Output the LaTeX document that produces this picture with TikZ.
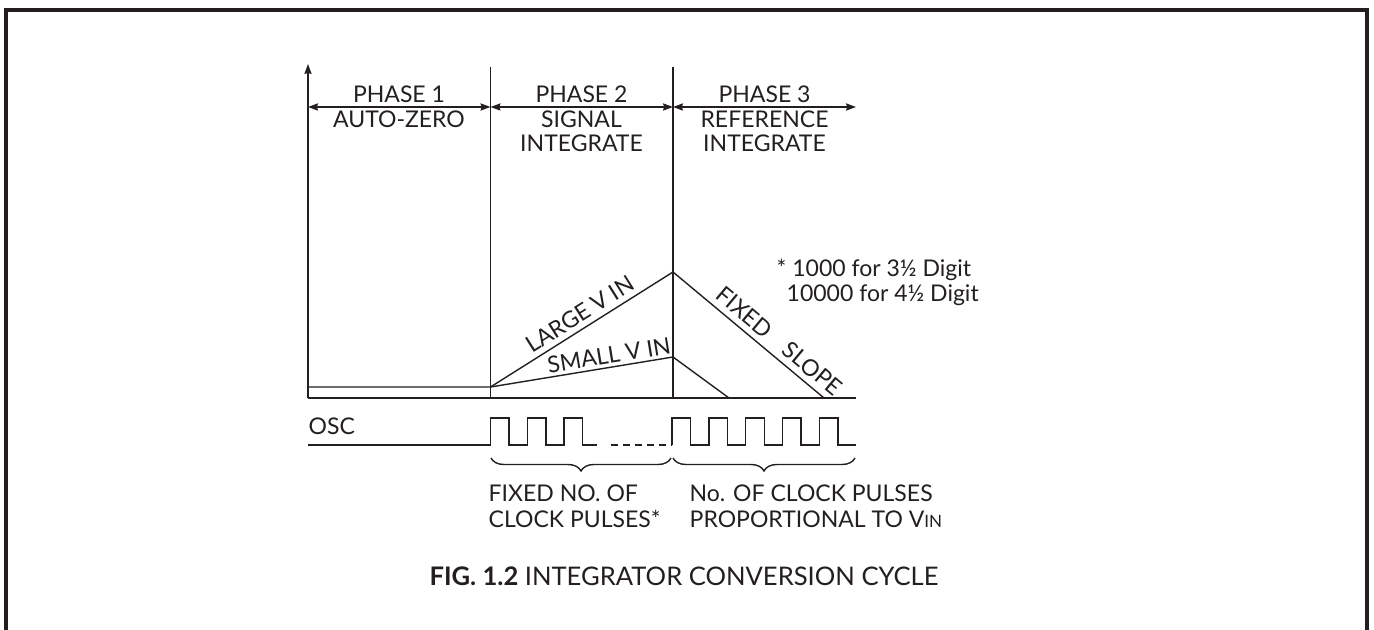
\documentclass[tikz,border=0pt]{standalone}
\usepackage{fontspec}
\setmainfont{Lato}
\usetikzlibrary{arrows.meta,decorations.pathreplacing}
\definecolor{ink}{HTML}{231F20}
\begin{document}
\begin{tikzpicture}[x=0.5pt,y=-0.5pt,
  line width=0.7pt, draw=ink,
  every node/.style={inner sep=0pt, text=ink, font=\fontsize{11.5}{13}\selectfont},
  lbl/.style={anchor=base},
  lblw/.style={anchor=base west},
  dbl/.style={{Stealth[length=5pt,width=3.6pt,inset=0.6pt]}-{Stealth[length=5pt,width=3.6pt,inset=0.6pt]}},
  brc/.style={decorate, decoration={brace, mirror, amplitude=6.5pt}},
  frame/.style={line width=2pt}
]
\useasboundingbox (0,0) rectangle (1374,630);
% frame
\draw[frame] (6,630) -- (6,10) -- (1367,10) -- (1367,630);

% coordinates
\coordinate (O) at (308,398);
\coordinate (top) at (308,64);
\coordinate (p2t) at (490.5,67);
\coordinate (p2b) at (490.5,398);
\coordinate (p3t) at (673,67);
\coordinate (p3b) at (673,398);
\coordinate (xend) at (856,398);
\coordinate (az) at (308,387);
\coordinate (start) at (490.5,387);
\coordinate (peakL) at (673,272);
\coordinate (peakS) at (673,357);
\coordinate (endL) at (824,398);
\coordinate (endS) at (729,398);
\coordinate (a0) at (308,107);
\coordinate (a1) at (490.5,107);
\coordinate (a2) at (673,107);
\coordinate (a3) at (856,107);

% axes and phase lines
\draw[-{Stealth[length=5pt,width=3.6pt,inset=0.6pt]}] (O) -- (top);
\draw (p2b) -- (p2t);
\draw (p3b) -- (p3t);
\draw (O) -- (xend);

% phase arrows
\draw[dbl] (a0) -- (a1);
\draw[dbl] (a1) -- (a2);
\draw[dbl] (a2) -- (a3);

% integrator ramps
\draw (az) -- (start) -- (peakL) -- (endL);
\draw (start) -- (peakS) -- (endS);

% ramp labels
\path (start) -- (peakL) node[pos=0.53, sloped, above=2.5pt] (lv) {LARGE V IN};
\path (start) -- (peakS) node[pos=0.66, sloped, above=1.5pt] (sv) {SMALL V IN};
\path (peakL) -- (endL) node[pos=0.41, sloped, above=3pt] (fx) {FIXED};
\path (peakL) -- (endL) node[pos=0.86, sloped, above=3pt] (sl) {SLOPE};

% phase labels
\node[lbl] (ph1) at (399,103) {PHASE 1};
\node[lbl] (az1) at (399,128) {AUTO-ZERO};
\node[lbl] (ph2) at (581.5,103) {PHASE 2};
\node[lbl] (si2) at (581.5,128) {SIGNAL};
\node[lbl] (in2) at (581.5,152) {INTEGRATE};
\node[lbl] (ph3) at (764.5,103) {PHASE 3};
\node[lbl] (re3) at (764.5,128) {REFERENCE};
\node[lbl] (in3) at (764.5,152) {INTEGRATE};

% note
\node[lblw] (n1) at (776,277) {* 1000 for 3½ Digit};
\node[lblw] (n2) at (786,302) {10000 for 4½ Digit};

% oscillator
\node[lblw] (osc) at (308,434) {OSC};
\draw (308,445) -- (490.5,445)
  \foreach \i in {0,1,2} { -- ({490.5+36.8*\i},445) -- ++(0,-27) -- ++(18.6,0) -- ++(0,27) }
  -- (597,445);
\draw[dash pattern=on 3.5pt off 2.5pt] (611,445) -- (672,445);
\draw (672,445)
  \foreach \i in {0,1,2,3,4} { -- ({672+36.8*\i},445) -- ++(0,-27) -- ++(18.6,0) -- ++(0,27) }
  -- (856,445);

% braces
\draw[brc] (491,458) -- (671,458);
\draw[brc] (673,458) -- (855,458);

% brace labels
\node[lblw] (f1) at (488,501) {FIXED NO. OF};
\node[lblw] (f2) at (488,527) {CLOCK PULSES*};
\node[lblw] (c1) at (689,501) {No. OF CLOCK PULSES};
\node[lblw] (c2) at (689,527) {PROPORTIONAL TO V{\fontsize{8.5}{9}\selectfont IN}};

% caption
\node[lbl, font=\fontsize{12.8}{14}\selectfont] (cap) at (684,585) {\textbf{FIG. 1.2} INTEGRATOR CONVERSION CYCLE};
\end{tikzpicture}
\end{document}
